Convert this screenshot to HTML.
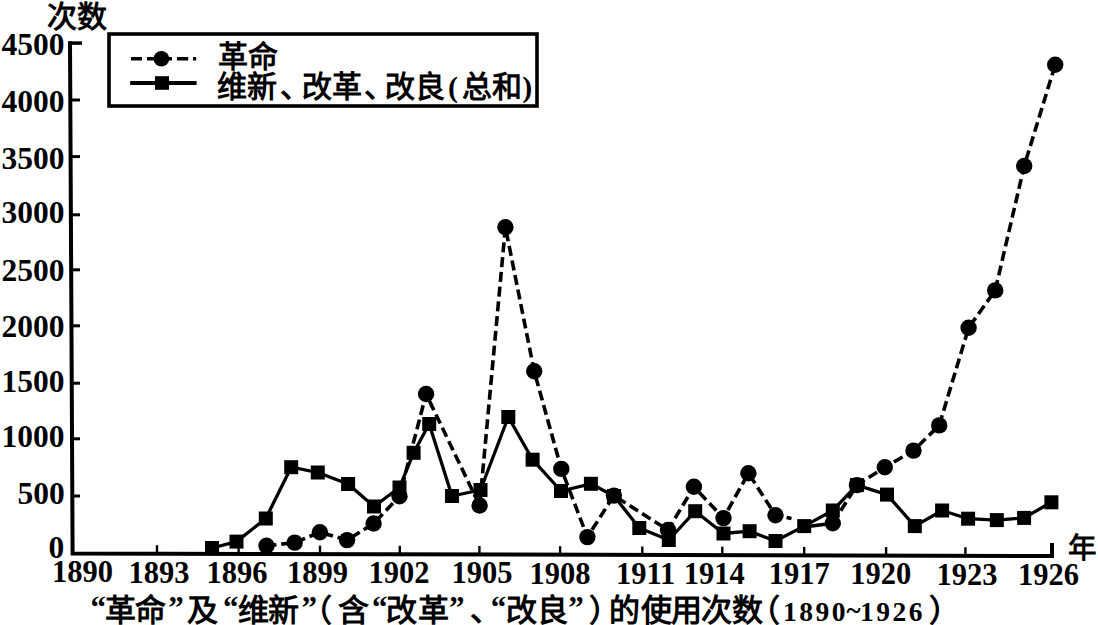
<!DOCTYPE html>
<html lang="zh-CN"><head><meta charset="utf-8"><style>
html,body{margin:0;padding:0;background:#fff;}
body{width:1098px;height:625px;position:relative;overflow:hidden;font-family:"Liberation Serif",serif;color:#000;}
svg{position:absolute;left:0;top:0;}
.t{position:absolute;white-space:nowrap;line-height:1;font-family:"Liberation Serif",serif;}
</style></head><body>
<svg width="1098" height="625" viewBox="0 0 1098 625">
<path d="M70.0,41.2 L72.6,553.5 L1052,556 V543" fill="none" stroke="#000" stroke-width="4" stroke-linejoin="miter"/>
<path d="M68.2,43.1 H82" fill="none" stroke="#000" stroke-width="3.5"/>
<line x1="71" y1="100" x2="80" y2="100" stroke="#000" stroke-width="3"/>
<line x1="71" y1="156.6" x2="80" y2="156.6" stroke="#000" stroke-width="3"/>
<line x1="71" y1="214.8" x2="80" y2="214.8" stroke="#000" stroke-width="3"/>
<line x1="71" y1="269.8" x2="80" y2="269.8" stroke="#000" stroke-width="3"/>
<line x1="71" y1="325.8" x2="80" y2="325.8" stroke="#000" stroke-width="3"/>
<line x1="71" y1="383.2" x2="80" y2="383.2" stroke="#000" stroke-width="3"/>
<line x1="71" y1="438.8" x2="80" y2="438.8" stroke="#000" stroke-width="3"/>
<line x1="71" y1="496" x2="80" y2="496" stroke="#000" stroke-width="3"/>
<line x1="157" y1="553.7" x2="157" y2="545.2" stroke="#000" stroke-width="2.4"/>
<line x1="238.6" y1="553.9" x2="238.6" y2="545.4" stroke="#000" stroke-width="2.4"/>
<line x1="320" y1="554.1" x2="320" y2="545.6" stroke="#000" stroke-width="2.4"/>
<line x1="399.8" y1="554.3" x2="399.8" y2="545.8" stroke="#000" stroke-width="2.4"/>
<line x1="479.4" y1="554.5" x2="479.4" y2="546.0" stroke="#000" stroke-width="2.4"/>
<line x1="560.1" y1="554.7" x2="560.1" y2="546.2" stroke="#000" stroke-width="2.4"/>
<line x1="642.3" y1="555.0" x2="642.3" y2="546.5" stroke="#000" stroke-width="2.4"/>
<line x1="722.3" y1="555.2" x2="722.3" y2="546.7" stroke="#000" stroke-width="2.4"/>
<line x1="804.2" y1="555.4" x2="804.2" y2="546.9" stroke="#000" stroke-width="2.4"/>
<line x1="886.1" y1="555.6" x2="886.1" y2="547.1" stroke="#000" stroke-width="2.4"/>
<line x1="965.4" y1="555.8" x2="965.4" y2="547.3" stroke="#000" stroke-width="2.4"/>
<polyline points="212,548 236.5,541.6 265.8,518.5 291.2,467.2 317.8,472.5 348.1,484 374,506.5 399.5,487.5 413.6,452.8 429.2,424 452,496 480.5,490 508.3,417 532.6,459.7 561,491 590.9,483.8 614,496 639.3,528 668.8,540 695.2,511.2 723.5,533.5 749.6,531.2 775.5,541 804.2,526.1 832.8,510.5 856.9,485.1 887,494.6 914.8,526.1 942.1,510.5 968.1,518.7 996.8,520.1 1024.1,517.9 1051.4,502.3" fill="none" stroke="#000" stroke-width="3.3" stroke-linejoin="round"/>
<polyline points="266.5,545.8 294.7,542.6 319.9,532.2 347.1,540.1 373.6,523.5 399.5,496.3 426.1,394 479.6,505.5 505.4,227.2 534.2,371.2 561.3,468.9 587.4,537.1 613.9,495.6 668,530 693.9,486.8 723.5,518.1 748.4,473.2 775.5,515.2 791.5,518.5" fill="none" stroke="#000" stroke-width="3.6" stroke-dasharray="10 4.8"/>
<polyline points="804,527 832.8,523.3" fill="none" stroke="#000" stroke-width="3.5"/>
<polyline points="832.8,523.3 856.9,485.1 884.8,467.3 913.5,450.6 939.2,425.4 968.6,327.8 995.2,290.4 1024.2,166 1055.2,64.8" fill="none" stroke="#000" stroke-width="3.6" stroke-dasharray="10 4.8"/>
<rect x="205" y="541" width="14" height="14" fill="#000"/>
<rect x="229.5" y="534.6" width="14" height="14" fill="#000"/>
<rect x="258.8" y="511.5" width="14" height="14" fill="#000"/>
<rect x="284.2" y="460.2" width="14" height="14" fill="#000"/>
<rect x="310.8" y="465.5" width="14" height="14" fill="#000"/>
<rect x="341.1" y="477" width="14" height="14" fill="#000"/>
<rect x="367" y="499.5" width="14" height="14" fill="#000"/>
<rect x="392.5" y="480.5" width="14" height="14" fill="#000"/>
<rect x="406.6" y="445.8" width="14" height="14" fill="#000"/>
<rect x="422.2" y="417" width="14" height="14" fill="#000"/>
<rect x="445" y="489" width="14" height="14" fill="#000"/>
<rect x="473.5" y="483" width="14" height="14" fill="#000"/>
<rect x="501.3" y="410" width="14" height="14" fill="#000"/>
<rect x="525.6" y="452.7" width="14" height="14" fill="#000"/>
<rect x="554" y="484" width="14" height="14" fill="#000"/>
<rect x="583.9" y="476.8" width="14" height="14" fill="#000"/>
<rect x="607" y="489" width="14" height="14" fill="#000"/>
<rect x="632.3" y="521" width="14" height="14" fill="#000"/>
<rect x="661.8" y="533" width="14" height="14" fill="#000"/>
<rect x="688.2" y="504.2" width="14" height="14" fill="#000"/>
<rect x="716.5" y="526.5" width="14" height="14" fill="#000"/>
<rect x="742.6" y="524.2" width="14" height="14" fill="#000"/>
<rect x="768.5" y="534" width="14" height="14" fill="#000"/>
<rect x="797.2" y="519.1" width="14" height="14" fill="#000"/>
<rect x="825.8" y="503.5" width="14" height="14" fill="#000"/>
<rect x="849.9" y="478.1" width="14" height="14" fill="#000"/>
<rect x="880" y="487.6" width="14" height="14" fill="#000"/>
<rect x="907.8" y="519.1" width="14" height="14" fill="#000"/>
<rect x="935.1" y="503.5" width="14" height="14" fill="#000"/>
<rect x="961.1" y="511.70000000000005" width="14" height="14" fill="#000"/>
<rect x="989.8" y="513.1" width="14" height="14" fill="#000"/>
<rect x="1017.0999999999999" y="510.9" width="14" height="14" fill="#000"/>
<rect x="1044.4" y="495.3" width="14" height="14" fill="#000"/>
<circle cx="266.5" cy="545.8" r="8.2" fill="#000"/>
<circle cx="294.7" cy="542.6" r="8.2" fill="#000"/>
<circle cx="319.9" cy="532.2" r="8.2" fill="#000"/>
<circle cx="347.1" cy="540.1" r="8.2" fill="#000"/>
<circle cx="373.6" cy="523.5" r="8.2" fill="#000"/>
<circle cx="399.5" cy="496.3" r="8.2" fill="#000"/>
<circle cx="426.1" cy="394" r="8.2" fill="#000"/>
<circle cx="479.6" cy="505.5" r="8.2" fill="#000"/>
<circle cx="505.4" cy="227.2" r="8.2" fill="#000"/>
<circle cx="534.2" cy="371.2" r="8.2" fill="#000"/>
<circle cx="561.3" cy="468.9" r="8.2" fill="#000"/>
<circle cx="587.4" cy="537.1" r="8.2" fill="#000"/>
<circle cx="613.9" cy="495.6" r="8.2" fill="#000"/>
<circle cx="668" cy="530" r="8.2" fill="#000"/>
<circle cx="693.9" cy="486.8" r="8.2" fill="#000"/>
<circle cx="723.5" cy="518.1" r="8.2" fill="#000"/>
<circle cx="748.4" cy="473.2" r="8.2" fill="#000"/>
<circle cx="775.5" cy="515.2" r="8.2" fill="#000"/>
<circle cx="832.8" cy="523.3" r="8.2" fill="#000"/>
<circle cx="856.9" cy="485.1" r="8.2" fill="#000"/>
<circle cx="884.8" cy="467.3" r="8.2" fill="#000"/>
<circle cx="913.5" cy="450.6" r="8.2" fill="#000"/>
<circle cx="939.2" cy="425.4" r="8.2" fill="#000"/>
<circle cx="968.6" cy="327.8" r="8.2" fill="#000"/>
<circle cx="995.2" cy="290.4" r="8.2" fill="#000"/>
<circle cx="1024.2" cy="166" r="8.2" fill="#000"/>
<circle cx="1055.2" cy="64.8" r="8.2" fill="#000"/>
<rect x="109" y="34" width="428" height="72" fill="none" stroke="#000" stroke-width="3.6"/>
<path d="M131,58.8 H142 M147,58.8 H172 M177,58.8 H188.2 M193,58.8 H196.2" stroke="#000" stroke-width="3.6"/>
<circle cx="161.4" cy="58.8" r="7.8" fill="#000"/>
<path d="M130.2,83 H196.6" stroke="#000" stroke-width="4"/>
<rect x="155" y="76.2" width="14" height="13.6" fill="#000"/>
</svg>
<div class="t" style="left:1.5px;top:29.4px;font-size:31.5px;font-weight:bold">4500</div>
<div class="t" style="left:1.5px;top:85.8px;font-size:31.5px;font-weight:bold">4000</div>
<div class="t" style="left:1.5px;top:142.6px;font-size:31.5px;font-weight:bold">3500</div>
<div class="t" style="left:1.5px;top:197.4px;font-size:31.5px;font-weight:bold">3000</div>
<div class="t" style="left:1.5px;top:255.0px;font-size:31.5px;font-weight:bold">2500</div>
<div class="t" style="left:1.5px;top:311.4px;font-size:31.5px;font-weight:bold">2000</div>
<div class="t" style="left:1.5px;top:366.0px;font-size:31.5px;font-weight:bold">1500</div>
<div class="t" style="left:1.5px;top:421.2px;font-size:31.5px;font-weight:bold">1000</div>
<div class="t" style="left:17.5px;top:477.6px;font-size:31.5px;font-weight:bold">500</div>
<div class="t" style="left:48.5px;top:531.7px;font-size:31.5px;font-weight:bold">0</div>
<div class="t" style="left:52.0px;top:557.4px;font-size:30.5px;font-weight:bold">1890</div>
<div class="t" style="left:128.6px;top:557.6px;font-size:30.5px;font-weight:bold">1893</div>
<div class="t" style="left:206.4px;top:557.8px;font-size:30.5px;font-weight:bold">1896</div>
<div class="t" style="left:287.0px;top:558.0px;font-size:30.5px;font-weight:bold">1899</div>
<div class="t" style="left:368.6px;top:558.2px;font-size:30.5px;font-weight:bold">1902</div>
<div class="t" style="left:451.5px;top:558.4px;font-size:30.5px;font-weight:bold">1905</div>
<div class="t" style="left:529.5px;top:558.6px;font-size:30.5px;font-weight:bold">1908</div>
<div class="t" style="left:616.0px;top:558.8px;font-size:30.5px;font-weight:bold">1911</div>
<div class="t" style="left:683.8px;top:559.0px;font-size:30.5px;font-weight:bold">1914</div>
<div class="t" style="left:768.8px;top:559.2px;font-size:30.5px;font-weight:bold">1917</div>
<div class="t" style="left:850.3px;top:559.4px;font-size:30.5px;font-weight:bold">1920</div>
<div class="t" style="left:936.5px;top:559.6px;font-size:30.5px;font-weight:bold">1923</div>
<div class="t" style="left:1018.0px;top:559.8px;font-size:30.5px;font-weight:bold">1926</div>
<div class="t" style="left:47.0px;top:2.0px;font-size:30px;font-weight:bold">次数</div>
<div class="t" style="left:217.5px;top:42.2px;font-size:30px;font-weight:bold">革命</div>
<div class="t" style="left:216.7px;top:72.4px;font-size:30px;font-weight:bold">维新</div>
<div class="t" style="left:280.0px;top:72.4px;font-size:30px;font-weight:bold">、</div>
<div class="t" style="left:301.9px;top:72.4px;font-size:30px;font-weight:bold">改革</div>
<div class="t" style="left:363.8px;top:72.4px;font-size:30px;font-weight:bold">、</div>
<div class="t" style="left:385.3px;top:72.4px;font-size:30px;font-weight:bold">改良</div>
<div class="t" style="left:448.0px;top:72.4px;font-size:30px;font-weight:bold">(</div>
<div class="t" style="left:461.9px;top:72.4px;font-size:30px;font-weight:bold">总和</div>
<div class="t" style="left:522.3px;top:72.4px;font-size:30px;font-weight:bold">)</div>
<div class="t" style="left:1067.5px;top:534.8px;font-size:28.5px;font-weight:bold">年</div>
<div class="t" style="left:105.0px;top:595.0px;font-size:31px;font-weight:bold">革</div>
<div class="t" style="left:90.4px;top:591.5px;font-size:31px;font-weight:bold">“</div>
<div class="t" style="left:135.2px;top:595.0px;font-size:31px;font-weight:bold">命</div>
<div class="t" style="left:168.3px;top:591.5px;font-size:31px;font-weight:bold">”</div>
<div class="t" style="left:186.7px;top:595.0px;font-size:31px;font-weight:bold">及</div>
<div class="t" style="left:223.0px;top:591.5px;font-size:31px;font-weight:bold">“</div>
<div class="t" style="left:238.3px;top:595.0px;font-size:31px;font-weight:bold">维</div>
<div class="t" style="left:267.9px;top:595.0px;font-size:31px;font-weight:bold">新</div>
<div class="t" style="left:301.6px;top:591.5px;font-size:31px;font-weight:bold">”</div>
<div class="t" style="left:301.2px;top:595.0px;font-size:31px;font-weight:bold">（</div>
<div class="t" style="left:338.1px;top:595.0px;font-size:31px;font-weight:bold">含</div>
<div class="t" style="left:372.0px;top:591.5px;font-size:31px;font-weight:bold">“</div>
<div class="t" style="left:386.1px;top:595.0px;font-size:31px;font-weight:bold">改</div>
<div class="t" style="left:417.5px;top:595.0px;font-size:31px;font-weight:bold">革</div>
<div class="t" style="left:449.0px;top:591.5px;font-size:31px;font-weight:bold">”</div>
<div class="t" style="left:470.0px;top:595.0px;font-size:31px;font-weight:bold">、</div>
<div class="t" style="left:490.8px;top:591.5px;font-size:31px;font-weight:bold">“</div>
<div class="t" style="left:506.0px;top:595.0px;font-size:31px;font-weight:bold">改</div>
<div class="t" style="left:537.4px;top:595.0px;font-size:31px;font-weight:bold">良</div>
<div class="t" style="left:568.2px;top:591.5px;font-size:31px;font-weight:bold">”</div>
<div class="t" style="left:589.1px;top:595.0px;font-size:31px;font-weight:bold">）</div>
<div class="t" style="left:609.0px;top:595.0px;font-size:31px;font-weight:bold">的</div>
<div class="t" style="left:641.0px;top:595.0px;font-size:31px;font-weight:bold">使</div>
<div class="t" style="left:671.0px;top:595.0px;font-size:31px;font-weight:bold">用</div>
<div class="t" style="left:701.0px;top:595.0px;font-size:31px;font-weight:bold">次</div>
<div class="t" style="left:732.0px;top:595.0px;font-size:31px;font-weight:bold">数</div>
<div class="t" style="left:748.5px;top:595.0px;font-size:31px;font-weight:bold">（</div>
<div class="t" style="left:929.4px;top:595.0px;font-size:31px;font-weight:bold">）</div>
<div class="t" style="left:783.0px;top:598.0px;font-size:27.5px;font-weight:bold;letter-spacing:2.5px">1890</div>
<div class="t" style="left:860.0px;top:598.0px;font-size:27.5px;font-weight:bold;letter-spacing:2.5px">1926</div>
<div class="t" style="left:846.5px;top:597.0px;font-size:27px;font-weight:bold">~</div>
</body></html>
